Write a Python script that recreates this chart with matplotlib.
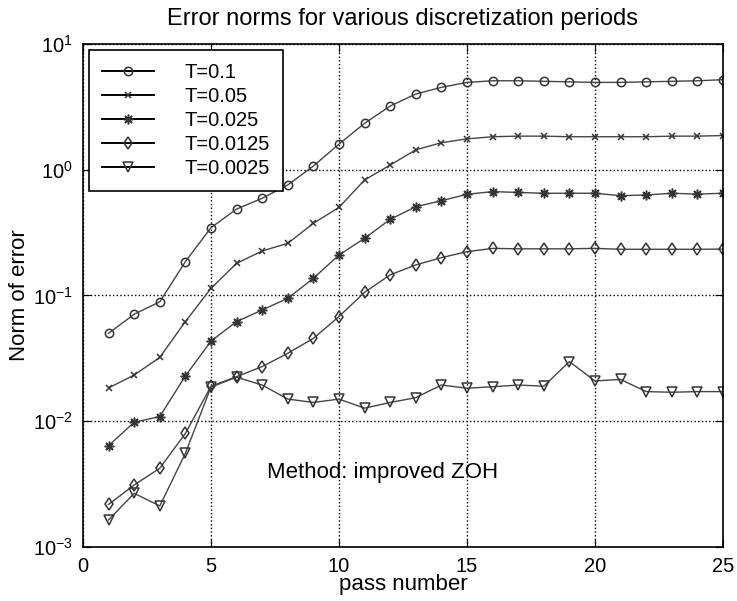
import numpy as np
import matplotlib
matplotlib.use("Agg")
import matplotlib.pyplot as plt

plt.rcParams['font.family'] = ['Liberation Sans', 'DejaVu Sans']
plt.rcParams['mathtext.fontset'] = 'custom'
plt.rcParams['mathtext.rm'] = 'Liberation Sans'

# pass numbers 1..25
passes = list(range(1, 26))

err_t0100 = [0.050, 0.071, 0.089, 0.186, 0.346, 0.487, 0.593, 0.757, 1.07, 1.60,
             2.34, 3.21, 4.00, 4.52, 4.95, 5.10, 5.10, 5.05, 5.00, 4.95,
             4.95, 5.00, 5.05, 5.10, 5.20]
err_t0050 = [0.0184, 0.0233, 0.0322, 0.062, 0.114, 0.180, 0.226, 0.260, 0.375, 0.502,
             0.829, 1.09, 1.44, 1.64, 1.76, 1.83, 1.85, 1.85, 1.83, 1.83,
             1.83, 1.83, 1.85, 1.85, 1.87]
err_t0025 = [0.0064, 0.0098, 0.0109, 0.0229, 0.0434, 0.062, 0.0767, 0.095, 0.137, 0.210,
             0.285, 0.403, 0.508, 0.567, 0.638, 0.67, 0.66, 0.65, 0.65, 0.65,
             0.622, 0.63, 0.65, 0.64, 0.65]
err_t00125 = [0.00218, 0.00311, 0.00423, 0.0080, 0.0190, 0.0226, 0.0272, 0.0347, 0.0456, 0.068,
              0.106, 0.146, 0.175, 0.200, 0.223, 0.237, 0.235, 0.235, 0.235, 0.237,
              0.233, 0.233, 0.233, 0.233, 0.234]
err_t00025 = [0.00164, 0.00267, 0.00212, 0.00556, 0.0187, 0.0224, 0.0194, 0.0150, 0.0141, 0.0150,
              0.0127, 0.0141, 0.0154, 0.0194, 0.0183, 0.0188, 0.0194, 0.0190, 0.0298, 0.0209,
              0.0215, 0.0172, 0.0170, 0.0172, 0.0172]

labels = ['T=0.1', 'T=0.05', 'T=0.025', 'T=0.0125', 'T=0.0025']
series = [err_t0100, err_t0050, err_t0025, err_t00125, err_t00025]
# matlab-like markers: circle, x, asterisk, diamond, down triangle
markers = ['o', 'x', (8, 2, 0), 'd', 'v']
msizes = [6, 4.5, 7, 6.5, 7]

fig = plt.figure(figsize=(7.37, 6.01), dpi=100)
ax = fig.add_axes([0.1126, 0.0899, 0.981 - 0.1126, 0.9268 - 0.0899])

for vals, lab, mk, msz in zip(series, labels, markers, msizes):
    ax.semilogy(passes, vals, color='#444444', lw=1.0, marker=mk, ms=msz,
                mfc='none', mec='#333333', mew=1.1, label=lab)

ax.set_xlim(0, 25)
ax.set_ylim(1e-3, 1e1)
ax.set_xticks([0, 5, 10, 15, 20, 25])
ax.minorticks_off()
ax.grid(True, which='major', color='black', linestyle=':', lw=1.0)
ax.tick_params(direction='in', top=True, right=True, length=6, labelsize=14.5, pad=7)
for s in ax.spines.values():
    s.set_linewidth(1.2)

ax.set_title('Error norms for various discretization periods', fontsize=17, pad=14)
ax.set_xlabel('pass number', fontsize=16, labelpad=-1)
ax.set_ylabel('Norm of error', fontsize=16, labelpad=2)

ax.text(7.18, 0.0039, 'Method: improved ZOH', fontsize=16, va='center', ha='left')

leg = ax.legend(loc='upper left', fontsize=14.5, frameon=True, fancybox=False,
                edgecolor='black', framealpha=1, handlelength=2.6,
                handletextpad=1.5, labelspacing=0.25, borderpad=0.65,
                borderaxespad=0.3)
leg.get_frame().set_linewidth(1.2)
for h in leg.legend_handles:
    h.set_color('black')
    h.set_linewidth(1.4)
    h.set_markeredgecolor('#333333')

fig.savefig('out.png', dpi=100)
